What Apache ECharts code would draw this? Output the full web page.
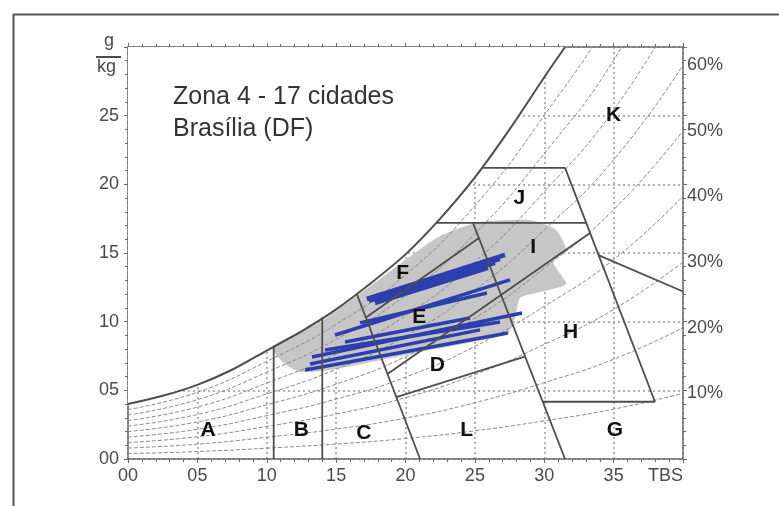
<!DOCTYPE html>
<html>
<head>
<meta charset="utf-8">
<title>Zona 4 - Brasília (DF)</title>
<script src="https://cdn.jsdelivr.net/npm/echarts/dist/echarts.min.js"></script>
<style>
html, body { margin: 0; padding: 0; background: #fff; }
#chart { width: 779px; height: 506px; }
</style>
</head>
<body>
<div id="chart"></div>
<script>
// carta bioclimatica: TBS (C) x umidade absoluta (g/kg)
const satT = [0, 2.5, 5, 7.5, 10, 12.5, 15, 17.5, 20, 22.5, 25, 27.5, 30, 31.5];
const satW = [4.0, 4.6, 5.4, 6.5, 7.9, 9.3, 10.9, 12.8, 14.9, 17.5, 20.5, 24.0, 27.8, 30.0];

// curvas de umidade relativa
const rhT = [0, 5, 10, 15, 20, 25, 30, 35, 40];
const rhNames = ['10%', '20%', '30%', '40%', '50%', '60%', '70%', '80%', '90%'];
const rh10 = [0.4, 0.54, 0.79, 1.09, 1.49, 2.05, 2.78, 3.63, 4.78];
const rh20 = [0.8, 1.08, 1.58, 2.18, 2.98, 4.1, 5.56, 7.26, 9.56];
const rh30 = [1.2, 1.62, 2.37, 3.27, 4.47, 6.15, 8.34, 10.89, 14.34];
const rh40 = [1.6, 2.16, 3.16, 4.36, 5.96, 8.2, 11.12, 14.52, 19.12];
const rh50 = [2.0, 2.7, 3.95, 5.45, 7.45, 10.25, 13.9, 18.15, 23.9];
const rh60 = [2.4, 3.24, 4.74, 6.54, 8.94, 12.3, 16.68, 21.78, 28.68];
const rh70 = [2.8, 3.78, 5.53, 7.63, 10.43, 14.35, 19.46, 25.41, 33.46];
const rh80 = [3.2, 4.32, 6.32, 8.72, 11.92, 16.4, 22.24, 29.04, 38.24];
const rh90 = [3.6, 4.86, 7.11, 9.81, 13.41, 18.45, 25.02, 32.67, 43.02];

// limites das zonas
const lineAB = [[10.5, 0], [10.5, 8.25]];
const lineBC = [[14, 0], [14, 10.3]];
const lineCD = [[16.5, 12.0], [21.05, 0]];
const lineDL = [[19.35, 4.5], [28.6, 7.45]];
const lineDE = [[18.7, 6.19], [33.3, 16.46]];
const lineEF = [[17.15, 10.3], [25.3, 16.1]];
const lineIJ = [[22.2, 17.2], [33.0, 17.2]];
const lineJK = [[25.6, 21.2], [31.5, 21.2]];
const lineJH = [[31.5, 21.2], [37.98, 4.17]];
const lineFI = [[24.86, 17.2], [31.5, 0]];
const lineGH = [[29.9, 4.17], [37.98, 4.17]];
const lineHK = [[33.9, 14.85], [40, 12.2]];

// nuvem de pontos horarios (cinza)
const grayT = [10.38, 13.84, 16.5, 19.6, 22.49, 25.37, 28.97, 30.85, 31.57, 30.63, 31.57, 29.69, 28.25, 27.89, 27.32, 21.05, 14.56, 12.4, 11.32];
const grayW = [8.16, 9.98, 11.87, 14.2, 16.24, 17.26, 17.4, 16.68, 15.22, 14.35, 12.75, 12.16, 11.73, 10.27, 9.1, 7.79, 6.48, 6.34, 6.92];

// linhas azuis (dias tipicos)
const blueF = [
  [[17.23, 11.65], [27.17, 14.86]],
  [[17.23, 11.65], [26.81, 14.57]],
  [[17.37, 11.51], [26.45, 14.28]],
  [[17.8, 11.36], [25.95, 13.91]],
];
const blueE = [
  [[14.92, 9.03], [27.53, 13.04]],
  [[16.72, 9.91], [25.87, 12.09]],
  [[13.26, 7.43], [28.4, 10.63]],
  [[12.76, 6.48], [27.39, 9.18]],
  [[13.12, 6.92], [25.37, 9.4]],
  [[14.2, 7.94], [26.81, 9.98]],
  [[15.64, 8.52], [24.65, 10.27]],
];

const zoneNames = ['A', 'B', 'C', 'D', 'E', 'F', 'G', 'H', 'I', 'J', 'K', 'L'];
const zoneT = [5.77, 12.5, 17.0, 22.3, 21.0, 19.8, 35.1, 31.9, 29.2, 28.2, 35.0, 24.4];
const zoneW = [2.1, 2.1, 1.9, 6.85, 10.3, 13.5, 2.1, 9.2, 15.4, 19.0, 25.0, 2.1];

const font = 'Liberation Sans, Arial, sans-serif';
const axisColor = '#6a6a6a';
const textColor = '#4a4a4a';

function pad(v) {
  return v < 10 ? '0' + v : String(v);
}

function pairs(xs, ys) {
  return xs.map((x, i) => [x, ys[i]]);
}

const myChart = echarts.init(document.getElementById('chart'));

const rhSets = [rh10, rh20, rh30, rh40, rh50, rh60, rh70, rh80, rh90];
const rhSeries = rhSets.map((vals, i) => ({
  type: 'line',
  data: pairs(rhT, vals),
  smooth: true,
  symbol: 'none',
  silent: true,
  z: 3,
  lineStyle: { color: '#8c8c8c', width: 1, type: [4, 2] },
  endLabel: {
    show: i < 6,
    formatter: rhNames[i],
    color: textColor,
    fontSize: 18,
    fontFamily: font,
    distance: 4,
  },
}));

const zoneLines = [lineAB, lineBC, lineCD, lineDL, lineDE, lineEF, lineIJ, lineJK, lineJH, lineFI, lineGH, lineHK];
const zoneSeries = zoneLines.map((seg) => ({
  type: 'line',
  data: seg,
  symbol: 'none',
  silent: true,
  z: 5,
  lineStyle: { color: '#4d4d4d', width: 1.8 },
}));

const blueSeries = blueF.concat(blueE).map((seg, i) => ({
  type: 'line',
  data: seg,
  symbol: 'none',
  silent: true,
  z: 4,
  lineStyle: { color: '#2b3fae', width: i < blueF.length ? 4.5 : 3.5 },
}));

const xAxisBase = {
  type: 'value',
  min: 0,
  max: 40,
  interval: 5,
  axisLine: { show: true, onZero: false, lineStyle: { color: axisColor, width: 1.5 } },
  axisTick: { show: true, length: 4, lineStyle: { color: axisColor } },
  minorTick: { show: true, splitNumber: 5, length: 3, lineStyle: { color: axisColor } },
};
const yAxisBase = {
  type: 'value',
  min: 0,
  max: 30,
  interval: 5,
  axisLine: { show: true, onZero: false, lineStyle: { color: axisColor, width: 1.5 } },
  axisTick: { show: true, length: 4, lineStyle: { color: axisColor } },
  minorTick: { show: true, splitNumber: 5, length: 3, lineStyle: { color: axisColor } },
};
const gridLine = { show: true, lineStyle: { color: '#9a9a9a', type: [2, 3], width: 1.5 } };

const option = {
  animation: false,
  backgroundColor: '#fff',
  grid: { left: 128, top: 47, width: 555, height: 412 },
  xAxis: [
    {
      ...xAxisBase,
      position: 'bottom',
      axisLabel: {
        formatter: (v) => (v === 40 ? '' : pad(v)),
        color: textColor, fontSize: 18, fontFamily: font, margin: 8,
      },
      splitLine: gridLine,
    },
    { ...xAxisBase, position: 'top', axisLabel: { show: false }, splitLine: { show: false } },
  ],
  yAxis: [
    {
      ...yAxisBase,
      position: 'left',
      axisLabel: {
        formatter: (v) => (v === 30 ? '' : pad(v)),
        color: textColor, fontSize: 18, fontFamily: font, margin: 9,
      },
      splitLine: gridLine,
    },
    { ...yAxisBase, position: 'right', axisLabel: { show: false }, splitLine: { show: false } },
  ],
  graphic: {
    z: 100,
    elements: [
      {
        type: 'rect', left: 11, top: 12, silent: true, z: 100,
        shape: { width: 820, height: 520 },
        style: { fill: null, stroke: '#555', lineWidth: 2 },
      },
      {
        type: 'text', left: 173, top: 85, z: 100,
        style: { text: 'Zona 4 - 17 cidades', fill: '#333', font: '25px ' + font },
      },
      {
        type: 'text', left: 173, top: 117, z: 100,
        style: { text: 'Brasília (DF)', fill: '#333', font: '25px ' + font },
      },
      {
        type: 'text', left: 104, top: 32, z: 100,
        style: { text: 'g', fill: textColor, font: '18px ' + font },
      },
      {
        type: 'line', z: 100, shape: { x1: 96, y1: 57, x2: 121, y2: 57 },
        style: { stroke: textColor, lineWidth: 2 },
      },
      {
        type: 'text', left: 97, top: 58, z: 100,
        style: { text: 'kg', fill: textColor, font: '18px ' + font },
      },
      {
        type: 'text', right: 96, top: 467, z: 100,
        style: { text: 'TBS', fill: textColor, font: '18px ' + font },
      },
    ],
  },
  series: [
    {
      // mascara branca acima da curva de saturacao
      type: 'line',
      data: pairs(satT, satW),
      smooth: 0.3,
      symbol: 'none',
      silent: true,
      z: 1,
      lineStyle: { width: 0 },
      areaStyle: { color: '#fff', opacity: 1, origin: 'end' },
    },
    {
      type: 'custom',
      silent: true,
      z: 2,
      data: [[grayT[0], grayW[0]]],
      renderItem(params, api) {
        return {
          type: 'polygon',
          shape: { points: pairs(grayT, grayW).map((p) => api.coord(p)), smooth: 0.2 },
          style: { fill: '#c6c6c6' },
        };
      },
    },
    ...rhSeries,
    ...blueSeries,
    ...zoneSeries,
    {
      type: 'line',
      data: pairs(satT, satW),
      smooth: 0.3,
      symbol: 'none',
      silent: true,
      z: 5,
      lineStyle: { color: '#4d4d4d', width: 2 },
    },
    {
      // letras das zonas
      type: 'custom',
      silent: true,
      z: 6,
      data: zoneNames.map((n, i) => [zoneT[i], zoneW[i], n]),
      renderItem(params, api) {
        const p = api.coord([api.value(0), api.value(1)]);
        return {
          type: 'text',
          x: p[0],
          y: p[1],
          style: {
            text: zoneNames[params.dataIndex],
            fill: '#111',
            font: 'bold 21px ' + font,
            align: 'center',
            verticalAlign: 'middle',
          },
        };
      },
    },
  ],
};

myChart.setOption(option);
</script>
</body>
</html>
